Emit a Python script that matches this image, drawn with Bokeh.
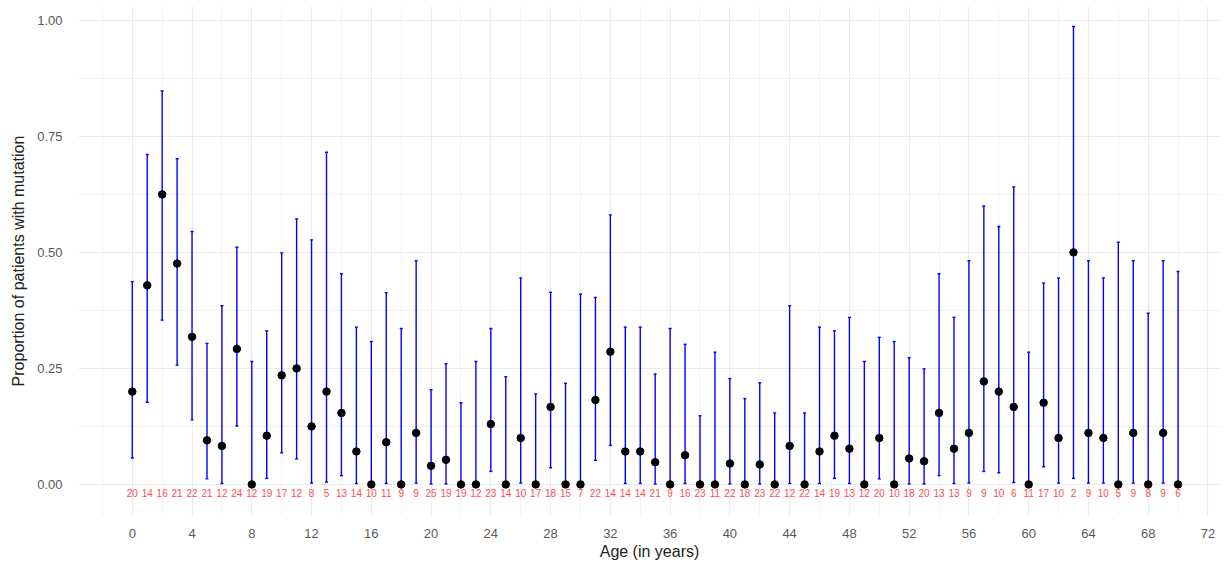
from bokeh.plotting import figure
from bokeh.models import ColumnDataSource, Whisker, FixedTicker
from bokeh.core.properties import value
from bokeh.embed import file_html
from bokeh.resources import INLINE

ages = list(range(0, 71))
counts = [20, 14, 16, 21, 22, 21, 12, 24, 12, 19, 17, 12, 8, 5, 13, 14, 10,
          11, 9, 9, 25, 19, 19, 12, 23, 14, 10, 17, 18, 15, 7, 22, 14, 14,
          14, 21, 9, 16, 23, 11, 22, 18, 23, 22, 12, 22, 14, 19, 13, 12, 20, 10,
          18, 20, 13, 13, 9, 9, 10, 6, 11, 17, 10, 2, 9, 10, 5, 9, 8, 9, 6]
proportion = [0.200, 0.429, 0.625, 0.476, 0.318, 0.095, 0.083, 0.292, 0.000, 0.105,
              0.235, 0.250, 0.125, 0.200, 0.154, 0.071, 0.000,
              0.091, 0.000, 0.111, 0.040, 0.053, 0.000, 0.000, 0.130, 0.000,
              0.100, 0.000, 0.167, 0.000, 0.000, 0.182, 0.286, 0.071,
              0.071, 0.048, 0.000, 0.063, 0.000, 0.000, 0.045, 0.000, 0.043,
              0.000, 0.083, 0.000, 0.071, 0.105, 0.077, 0.000, 0.100, 0.000,
              0.056, 0.050, 0.154, 0.077, 0.111, 0.222, 0.200, 0.167, 0.000,
              0.176, 0.100, 0.500, 0.111, 0.100, 0.000, 0.111, 0.000, 0.111, 0.000]
lower = [0.057, 0.177, 0.354, 0.257, 0.139, 0.012, 0.002, 0.126, 0.000, 0.013,
         0.068, 0.055, 0.003, 0.005, 0.019, 0.002, 0.000,
         0.002, 0.000, 0.003, 0.001, 0.001, 0.000, 0.000, 0.028, 0.000,
         0.003, 0.000, 0.036, 0.000, 0.000, 0.052, 0.084, 0.002,
         0.002, 0.001, 0.000, 0.002, 0.000, 0.000, 0.001, 0.000, 0.001,
         0.000, 0.002, 0.000, 0.002, 0.013, 0.002, 0.000, 0.012, 0.000,
         0.001, 0.001, 0.019, 0.002, 0.003, 0.028, 0.025, 0.004, 0.000,
         0.038, 0.003, 0.013, 0.003, 0.003, 0.000, 0.003, 0.000, 0.003, 0.000]
upper = [0.437, 0.711, 0.848, 0.702, 0.545, 0.304, 0.385, 0.511, 0.265, 0.331,
         0.499, 0.572, 0.527, 0.716, 0.454, 0.339, 0.308,
         0.413, 0.336, 0.482, 0.204, 0.260, 0.176, 0.265, 0.336, 0.232,
         0.445, 0.195, 0.414, 0.218, 0.410, 0.403, 0.581, 0.339,
         0.339, 0.238, 0.336, 0.302, 0.148, 0.285, 0.228, 0.185, 0.219,
         0.154, 0.385, 0.154, 0.339, 0.331, 0.360, 0.265, 0.317, 0.308,
         0.273, 0.249, 0.454, 0.360, 0.482, 0.600, 0.556, 0.641, 0.285,
         0.434, 0.445, 0.987, 0.482, 0.445, 0.522, 0.482, 0.369, 0.482, 0.459]
x_ticks = list(range(0, 73, 4))
y_ticks = [0.0, 0.25, 0.5, 0.75, 1.0]
y_tick_labels = {0.0: "0.00", 0.25: "0.25", 0.5: "0.50", 0.75: "0.75", 1.0: "1.00"}

src = ColumnDataSource(dict(
    age=ages, n=[str(c) for c in counts], prop=proportion, lo=lower, hi=upper,
    label_y=[-0.019] * len(ages)))

FONT = "Liberation Sans"

p = figure(width=1220, height=562, output_backend="svg", toolbar_location=None,
           x_range=(-3.6, 72.84), y_range=(-0.067, 1.03),
           min_border_left=78, min_border_right=0, min_border_top=6, min_border_bottom=30)
p.outline_line_color = None
p.background_fill_color = "white"
p.border_fill_color = "white"

# grid
p.xaxis.ticker = FixedTicker(ticks=x_ticks, minor_ticks=list(range(-2, 74, 2)))
p.yaxis.ticker = FixedTicker(ticks=y_ticks, minor_ticks=[-0.125 + 0.125 * i for i in range(11)])
p.yaxis.major_label_overrides = y_tick_labels
for g in (p.xgrid, p.ygrid):
    g.grid_line_color = "#EBEBEB"
    g.grid_line_width = 1.1
    g.minor_grid_line_color = "#EBEBEB"
    g.minor_grid_line_width = 0.6

for ax in (p.xaxis, p.yaxis):
    ax.axis_line_color = None
    ax.major_tick_line_color = None
    ax.minor_tick_line_color = None
    ax.major_label_text_font = FONT
    ax.major_label_text_font_size = "13px"
    ax.major_label_text_color = "#5A5A5A"
    ax.axis_label_text_font = FONT
    ax.axis_label_text_font_size = "16px"
    ax.axis_label_text_font_style = "normal"
    ax.axis_label_text_color = "#222222"

p.xaxis.axis_label = "Age (in years)"
p.yaxis.axis_label = "Proportion of patients with mutation"
p.xaxis.major_label_standoff = 7
p.xaxis.axis_label_standoff = 2
p.yaxis.major_label_standoff = 10
p.yaxis.axis_label_standoff = 7

# error bars
w = Whisker(source=src, base="age", lower="lo", upper="hi",
            line_color="#0000FF", line_width=1.4)
w.upper_head.size = 3
w.lower_head.size = 3
w.upper_head.line_color = "#0000FF"
w.lower_head.line_color = "#0000FF"
w.upper_head.line_width = 1.4
w.lower_head.line_width = 1.4
p.add_layout(w)

p.scatter(x="age", y="prop", source=src, size=7.5, color="black")

p.text(x="age", y="label_y", text="n", source=src, text_color="#FF4D4D",
       text_font=value(FONT), text_font_size="10px",
       text_align="center", text_baseline="middle")

open("out.html", "w").write(file_html(p, INLINE))
